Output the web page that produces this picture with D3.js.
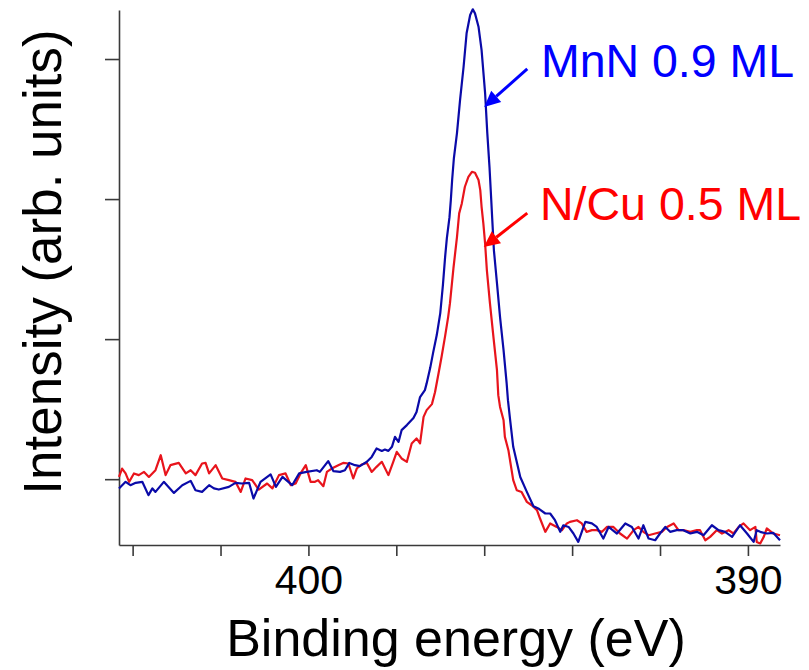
<!DOCTYPE html>
<html>
<head>
<meta charset="utf-8">
<script src="https://cdn.jsdelivr.net/npm/d3@7"></script>
<style>
  body { margin: 0; background: #fff; }
  svg { display: block; font-family: "Liberation Sans", Arial, sans-serif; }
</style>
</head>
<body>
<svg id="chart" width="809" height="670"></svg>
<script>
// N 1s spectra, binding energy (eV) vs intensity (arb. units)
const mnnEnergy = [404.31, 404.16, 404.05, 403.93, 403.78, 403.64, 403.55, 403.48, 403.29, 403.06,
  402.87, 402.68, 402.57, 402.42, 402.26, 402.15, 402.04, 401.81, 401.66, 401.51,
  401.35, 401.25, 401.09, 400.86, 400.74, 400.59, 400.37, 400.21,
  400.04, 399.81, 399.74, 399.55, 399.43, 399.28, 399.17, 399.07, 398.94, 398.83,
  398.67, 398.56, 398.45, 398.33, 398.26, 398.18, 398.10, 398.03, 397.95, 397.88, 397.76,
  397.61, 397.54, 397.46, 397.35, 397.31, 397.23, 397.16, 397.08, 397.00, 396.94,
  396.89, 396.85, 396.79, 396.76, 396.73, 396.69, 396.62, 396.55, 396.47, 396.40,
  396.32, 396.26, 396.21, 396.13, 396.06, 395.98, 395.93, 395.88, 395.84, 395.82,
  395.78, 395.71, 395.64, 395.56, 395.49, 395.46, 395.41, 395.34, 395.18, 395.03,
  394.88, 394.77, 394.61, 394.50,
  394.39, 394.27, 394.20, 394.08, 393.97, 393.86, 393.70, 393.55, 393.44, 393.29,
  393.17, 392.98, 392.79, 392.64, 392.49, 392.38, 392.26, 392.11, 392.00, 391.88,
  391.77, 391.62, 391.47, 391.31, 391.16, 391.01, 390.82, 390.67, 390.52, 390.36,
  390.18, 390.02, 389.87, 389.80, 389.72, 389.57, 389.42, 389.27]
const mnnIntensity = [-0.066, -0.019, -0.043, -0.026, -0.019, -0.114, -0.066, -0.091, -0.019, -0.098,
  -0.043, -0.012, -0.079, -0.091, -0.043, -0.066, -0.074, -0.055, -0.026, -0.031,
  -0.026, -0.138, -0.019, 0.034, -0.055, 0.016, -0.043, 0.041,
  0.052, 0.064, 0.052, 0.129, 0.057, 0.052, 0.064, 0.116, 0.100, 0.093,
  0.124, 0.159, 0.219, 0.202, 0.212, 0.202, 0.231, 0.302, 0.266, 0.350, 0.386,
  0.436, 0.479, 0.586, 0.636, 0.684, 0.793, 0.907, 1.029, 1.186, 1.386,
  1.586, 1.721, 1.871, 1.993, 2.136, 2.293, 2.471, 2.707, 2.943, 3.186,
  3.314, 3.355, 3.326, 3.231, 3.064, 2.757, 2.471, 2.229, 1.993, 1.871,
  1.636, 1.400, 1.157, 0.921, 0.686, 0.564, 0.421, 0.231, 0.016, -0.091,
  -0.193, -0.209, -0.245, -0.245,
  -0.293, -0.376, -0.329, -0.341, -0.388, -0.448, -0.305, -0.316, -0.341, -0.424,
  -0.341, -0.388, -0.316, -0.341, -0.424, -0.329, -0.424, -0.436, -0.388, -0.341,
  -0.376, -0.364, -0.364, -0.388, -0.376, -0.400, -0.329, -0.364, -0.376, -0.412,
  -0.329, -0.388, -0.448, -0.364, -0.376, -0.388, -0.384, -0.436]

const ncuEnergy = [404.31, 404.24, 404.16, 404.08, 403.97, 403.86, 403.74, 403.63, 403.48, 403.36,
  403.25, 403.14, 402.95, 402.79, 402.68, 402.57, 402.42, 402.34, 402.26, 402.11,
  401.96, 401.81, 401.66, 401.54, 401.43, 401.28, 401.13, 400.94, 400.82, 400.67,
  400.52, 400.40, 400.29, 400.18, 400.06, 399.95,
  399.85, 399.78, 399.66, 399.58, 399.47, 399.32, 399.21, 399.09, 398.98, 398.90,
  398.79, 398.67, 398.56, 398.45, 398.33, 398.18, 398.07, 397.99, 397.88, 397.76,
  397.65, 397.54, 397.46,
  397.38, 397.31, 397.19, 397.12, 397.04, 396.97, 396.89, 396.82, 396.78, 396.70,
  396.62, 396.57, 396.51, 396.44, 396.36, 396.28, 396.21, 396.13, 396.09, 396.06,
  396.02, 395.98, 395.94, 395.87, 395.79, 395.71, 395.68, 395.64, 395.56, 395.53,
  395.45, 395.34, 395.26, 395.15, 395.03, 394.92, 394.80, 394.73, 394.61, 394.50,
  394.35, 394.23, 394.12, 394.05, 393.89, 393.78, 393.67, 393.55, 393.44, 393.32,
  393.21, 393.06, 392.91, 392.75, 392.60, 392.49, 392.38, 392.26, 392.11, 391.96,
  391.84, 391.69, 391.58, 391.47, 391.31, 391.16, 391.09, 390.97, 390.86, 390.71,
  390.59, 390.44, 390.33, 390.21, 390.10, 389.95, 389.83, 389.80, 389.72, 389.64,
  389.57, 389.42, 389.27]
const ncuIntensity = [0.016, 0.076, 0.041, -0.019, 0.041, 0.029, 0.052, 0.016, 0.064, 0.171,
  0.029, 0.100, 0.116, 0.041, 0.064, 0.029, 0.112, 0.116, 0.041, 0.100,
  0.005, -0.007, -0.019, -0.091, 0.005, -0.007, -0.074, -0.031, -0.066, 0.029,
  0.041, -0.043, -0.031, 0.041, 0.100, -0.019,
  -0.019, -0.007, -0.050, 0.052, 0.076, 0.100, 0.116, 0.112, 0.005, 0.076,
  0.105, 0.116, 0.052, 0.088, 0.124, 0.029, 0.124, 0.195, 0.148, 0.124,
  0.255, 0.291, 0.255,
  0.445, 0.493, 0.536, 0.621, 0.755, 0.874, 1.021, 1.159, 1.255, 1.507,
  1.729, 1.898, 1.969, 2.088, 2.159, 2.195, 2.188, 2.136, 2.064, 1.945,
  1.826, 1.684, 1.493, 1.257, 1.014, 0.779, 0.600, 0.516, 0.421, 0.302,
  0.207, -0.007, -0.079, -0.091, -0.162, -0.186, -0.221, -0.281, -0.376, -0.316,
  -0.341, -0.364, -0.316, -0.305, -0.293, -0.316, -0.376, -0.364, -0.364, -0.376,
  -0.341, -0.341, -0.388, -0.424, -0.364, -0.341, -0.376, -0.400, -0.388, -0.376,
  -0.341, -0.316, -0.364, -0.364, -0.376, -0.364, -0.364, -0.436, -0.412, -0.364,
  -0.388, -0.364, -0.388, -0.341, -0.316, -0.364, -0.341, -0.448, -0.459, -0.412,
  -0.352, -0.388, -0.400]

const xTicks = [404, 402, 400, 398, 396, 394, 392, 390]
const xTickLabels = {400: '400', 390: '390'}
const yTicks = [0, 1, 2, 3]

// labels: [text, colour, tip E, tip I, tail E, tail I, text E, text baseline I]
const labels = [
  ['MnN 0.9 ML', '#0000ff', 396.0, 2.657, 395.02, 2.929, 394.71, 2.871],
  ['N/Cu 0.5 ML', '#ff0000', 396.01, 1.657, 395.02, 1.9, 394.73, 1.85]
]

const margin = {top: 10, right: 29, bottom: 125, left: 119}
const width = 809
const height = 670

const svg = d3.select('#chart')

const x = d3.scaleLinear()
  .domain([404.31, 389.27])
  .range([margin.left, width - margin.right])
const y = d3.scaleLinear()
  .domain([-0.47, 3.35])
  .range([height - margin.bottom, margin.top])

const line = d3.line()
  .x(d => x(d[0]))
  .y(d => y(d[1]))

const xAxis = svg.append('g')
  .attr('transform', `translate(0,${height - margin.bottom})`)
  .call(d3.axisBottom(x)
    .tickValues(xTicks)
    .tickFormat(d => xTickLabels[d] || '')
    .tickSize(11)
    .tickSizeOuter(0)
    .tickPadding(9))
xAxis.selectAll('text')
  .attr('fill', '#000')
  .style('font-size', '41px')
  .style('font-family', '"Liberation Sans", Arial, sans-serif')

const yAxis = svg.append('g')
  .attr('transform', `translate(${margin.left},0)`)
  .call(d3.axisLeft(y)
    .tickValues(yTicks)
    .tickFormat('')
    .tickSize(14)
    .tickSizeOuter(0))

svg.selectAll('.domain, .tick line')
  .attr('stroke', '#3a3a3a')
  .attr('stroke-width', 1.6)

const series = [
  {values: d3.zip(ncuEnergy, ncuIntensity), color: '#e8141c'},
  {values: d3.zip(mnnEnergy, mnnIntensity), color: '#0a0aa8'}
]

series.forEach(s => {
  svg.append('path')
    .datum(s.values)
    .attr('fill', 'none')
    .attr('stroke', s.color)
    .attr('stroke-width', 2.2)
    .attr('stroke-linejoin', 'round')
    .attr('d', line)
})

// arrows + text
labels.forEach(l => {
  const [txt, color, tipE, tipI, tailE, tailI, textE, textI] = l
  const x1 = x(tailE), y1 = y(tailI), x2 = x(tipE), y2 = y(tipI)
  const ang = Math.atan2(y2 - y1, x2 - x1)
  const headLen = 16, headW = 7.5
  const bx = x2 - headLen * Math.cos(ang), by = y2 - headLen * Math.sin(ang)
  svg.append('line')
    .attr('x1', x1).attr('y1', y1)
    .attr('x2', bx).attr('y2', by)
    .attr('stroke', color)
    .attr('stroke-width', 3)
  svg.append('path')
    .attr('d', `M${x2},${y2}L${bx - headW * Math.sin(ang)},${by + headW * Math.cos(ang)}L${bx + headW * Math.sin(ang)},${by - headW * Math.cos(ang)}Z`)
    .attr('fill', color)
  svg.append('text')
    .attr('x', x(textE))
    .attr('y', y(textI))
    .attr('fill', color)
    .style('font-size', '46.5px')
    .text(txt)
})

svg.append('text')
  .attr('x', 456)
  .attr('y', 656)
  .attr('text-anchor', 'middle')
  .style('font-size', '52px')
  .text('Binding energy (eV)')

svg.append('text')
  .attr('transform', 'translate(61,262) rotate(-90)')
  .attr('text-anchor', 'middle')
  .style('font-size', '53px')
  .text('Intensity (arb. units)')
</script>
</body>
</html>
